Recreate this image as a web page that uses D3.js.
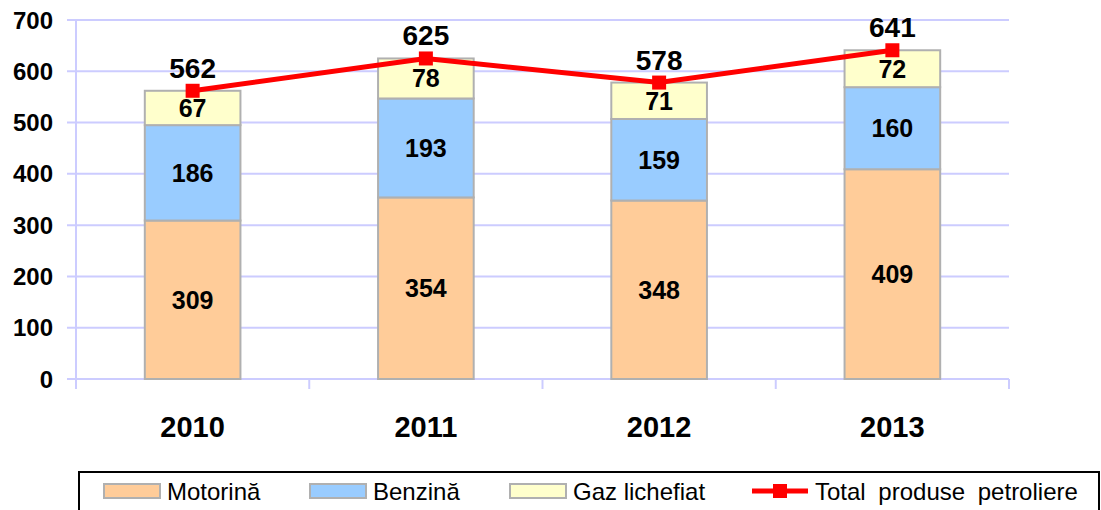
<!DOCTYPE html>
<html>
<head>
<meta charset="utf-8">
<script src="https://cdn.jsdelivr.net/npm/d3@7"></script>
<style>
  body { margin: 0; background: #fff; }
  text { font-family: Arial, "Liberation Sans", sans-serif; }
</style>
</head>
<body>
<div id="chart"></div>
<script>
const years = ["2010", "2011", "2012", "2013"];
const motorina = [309, 354, 348, 409];
const benzina = [186, 193, 159, 160];
const gaz = [67, 78, 71, 72];
const total = [562, 625, 578, 641];
const yTicks = [0, 100, 200, 300, 400, 500, 600, 700];

const seriesNames = ["Motorină", "Benzină", "Gaz lichefiat"];
const seriesColors = ["#ffcc99", "#99ccff", "#ffffcc"];
const lineName = "Total produse petroliere";

const svgWidth = 1101;
const svgHeight = 510;
const margin = { top: 20, right: 92, bottom: 131, left: 76 };
const width = svgWidth - margin.left - margin.right;
const height = svgHeight - margin.top - margin.bottom;

const svg = d3.select("#chart").append("svg")
  .attr("width", svgWidth)
  .attr("height", svgHeight);

const g = svg.append("g")
  .attr("transform", `translate(${margin.left}, ${margin.top})`);

const x = d3.scaleBand().domain(years).range([0, width]).paddingInner(0.59).paddingOuter(0.295);
const xc = d3.scaleBand().domain(years).range([0, width]);
const y = d3.scaleLinear().domain([0, 700]).range([height, 0]);

// gridlines
g.selectAll(".grid").data(yTicks).enter().append("line")
  .attr("x1", -9).attr("x2", width)
  .attr("y1", d => y(d)).attr("y2", d => y(d))
  .attr("stroke", "#ccccff").attr("stroke-width", 2);

// y axis line
g.append("line").attr("x1", 0).attr("x2", 0).attr("y1", 0).attr("y2", height + 10)
  .attr("stroke", "#ccccff").attr("stroke-width", 2);

// x tick marks at category boundaries
g.selectAll(".xt").data(years).enter().append("line")
  .attr("x1", (d, i) => xc.step() * (i + 1)).attr("x2", (d, i) => xc.step() * (i + 1))
  .attr("y1", height).attr("y2", height + 10)
  .attr("stroke", "#ccccff").attr("stroke-width", 2);

// y labels
g.selectAll(".yl").data(yTicks).enter().append("text")
  .attr("x", -23).attr("y", d => y(d)).attr("dy", "0.36em")
  .attr("text-anchor", "end").attr("font-size", 24).attr("font-weight", "bold")
  .text(d => d);

// x labels
g.selectAll(".xl").data(years).enter().append("text")
  .attr("x", d => xc(d) + xc.bandwidth() / 2).attr("y", height + 58)
  .attr("text-anchor", "middle").attr("font-size", 29).attr("font-weight", "bold")
  .text(d => d);

// stacked bars
const rows = years.map((yr, i) => ({ year: yr, m: motorina[i], b: benzina[i], g: gaz[i] }));
const stack = d3.stack().keys(["m", "b", "g"])(rows);

stack.forEach((layer, li) => {
  const grp = g.append("g");
  grp.selectAll("rect").data(layer).enter().append("rect")
    .attr("x", d => x(d.data.year))
    .attr("width", x.bandwidth())
    .attr("y", d => y(d[1]))
    .attr("height", d => y(d[0]) - y(d[1]))
    .attr("fill", seriesColors[li])
    .attr("stroke", "#b0b0b0").attr("stroke-width", 2);
  grp.selectAll("text").data(layer).enter().append("text")
    .attr("x", d => x(d.data.year) + x.bandwidth() / 2)
    .attr("y", d => (y(d[0]) + y(d[1])) / 2).attr("dy", "0.36em")
    .attr("text-anchor", "middle").attr("font-size", 25).attr("font-weight", "bold")
    .text(d => d[1] - d[0]);
});

// total line
const cx = (d, i) => xc(years[i]) + xc.bandwidth() / 2;
g.append("path").datum(total)
  .attr("d", d3.line().x(cx).y(d => y(d)))
  .attr("fill", "none").attr("stroke", "#ff0000").attr("stroke-width", 5);
g.selectAll(".mk").data(total).enter().append("rect")
  .attr("x", (d, i) => cx(d, i) - 7).attr("y", d => y(d) - 7)
  .attr("width", 14).attr("height", 14).attr("fill", "#ff0000");
g.selectAll(".tl").data(total).enter().append("text")
  .attr("x", cx).attr("y", d => y(d) - 13)
  .attr("text-anchor", "middle").attr("font-size", 28).attr("font-weight", "bold")
  .text(d => d);

// legend
const lg = svg.append("g");
lg.append("rect").attr("x", 79).attr("y", 472).attr("width", 1020).attr("height", 50)
  .attr("fill", "none").attr("stroke", "#000").attr("stroke-width", 2);
const legX = [104, 310, 510];
seriesNames.forEach((name, i) => {
  lg.append("rect").attr("x", legX[i]).attr("y", 484).attr("width", 56).attr("height", 14)
    .attr("fill", seriesColors[i]).attr("stroke", "#b0b0b0").attr("stroke-width", 2);
  lg.append("text").attr("x", legX[i] + 63).attr("y", 500)
    .attr("font-size", 24).text(name);
});
lg.append("line").attr("x1", 752).attr("x2", 808).attr("y1", 491).attr("y2", 491)
  .attr("stroke", "#ff0000").attr("stroke-width", 5);
lg.append("rect").attr("x", 773).attr("y", 484).attr("width", 14).attr("height", 14).attr("fill", "#ff0000");
lg.append("text").attr("x", 815).attr("y", 500).attr("font-size", 24).attr("word-spacing", 6).text(lineName);
</script>
</body>
</html>
